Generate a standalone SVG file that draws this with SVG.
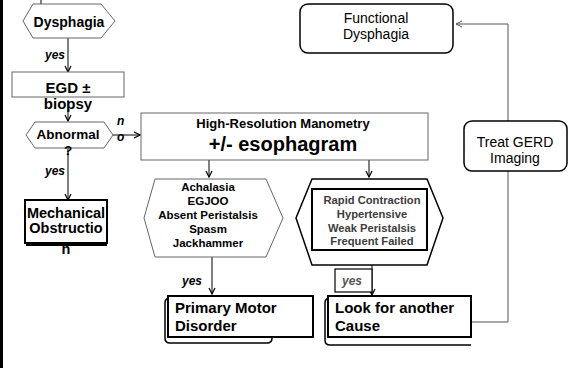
<svg xmlns="http://www.w3.org/2000/svg" width="584" height="368" viewBox="0 0 584 368">
  <defs>
    <marker id="arr" viewBox="0 0 8 8" refX="7" refY="4" markerWidth="8" markerHeight="8" markerUnits="userSpaceOnUse" orient="auto">
      <path d="M1,1 L7,4 L1,7" fill="none" stroke="#000" stroke-width="1.2"/>
    </marker>
    <marker id="arrOpen" viewBox="0 0 8 8" refX="7" refY="4" markerWidth="8" markerHeight="8" markerUnits="userSpaceOnUse" orient="auto">
      <path d="M1,1 L7,4 L1,7" fill="none" stroke="#555" stroke-width="1"/>
    </marker>
    <style>
      text { font-family: "Liberation Sans", Arial, sans-serif; fill: #000; }
      .b { font-weight: bold; }
      .lbl { font-weight: bold; font-style: italic; font-size: 12px; }
      .thin { fill: #fff; stroke: #666; stroke-width: 1; }
      .thick { fill: #fff; stroke: #000; stroke-width: 2; }
      .conn { fill: none; stroke: #000; stroke-width: 1; }
      .grey { fill: none; stroke: #555; stroke-width: 1; }
      .mid { text-anchor: middle; }
      .dim { fill: #3c3c3c; }
    </style>
  </defs>

  <rect width="584" height="368" fill="#fff"/>
  <!-- left margin bar -->
  <rect x="0" y="0" width="3" height="368" fill="#000"/>

  <!-- connectors -->
  <g id="connectors">
    <line class="conn" x1="41" y1="0" x2="41" y2="4"/>
    <line class="conn" x1="68" y1="38" x2="68" y2="72" marker-end="url(#arr)"/>
    <line class="conn" x1="68" y1="100" x2="68" y2="121" marker-end="url(#arr)"/>
    <line class="conn" x1="113" y1="135" x2="140" y2="135" marker-end="url(#arr)"/>
    <line class="conn" x1="68" y1="148" x2="68" y2="200" marker-end="url(#arr)"/>
    <line class="conn" x1="209" y1="160" x2="209" y2="177" marker-end="url(#arr)"/>
    <line class="conn" x1="369" y1="153" x2="369" y2="177" marker-end="url(#arr)"/>
    <line class="conn" x1="212" y1="257" x2="212" y2="294" marker-end="url(#arr)"/>
    <line class="conn" x1="372" y1="265" x2="372" y2="295" marker-end="url(#arr)"/>
    <polyline class="grey" points="472,322 508,322 508,171"/>
    <polyline class="grey" points="508,121 508,24 456,24" marker-end="url(#arrOpen)"/>
    <text class="lbl" x="65" y="59" text-anchor="end">yes</text>
    <text class="lbl" x="65" y="175" text-anchor="end">yes</text>
    <text class="lbl" x="117" y="125">n</text>
    <text class="lbl" x="117" y="141">o</text>
    <text class="lbl" x="202" y="285" text-anchor="end">yes</text>
  </g>

  <g id="dysphagia">
    <polygon class="thin" points="23,21 33,4 101,4 115,21 101,38 33,38"/>
    <text class="b mid" x="69" y="27" font-size="14">Dysphagia</text>
  </g>

  <g id="egd">
    <rect class="thin" x="12" y="72" width="112" height="25"/>
    <text class="b mid" x="68" y="93" font-size="15">EGD ±</text>
    <text class="b mid" x="68" y="109" font-size="15">biopsy</text>
  </g>

  <g id="abnormal">
    <polygon class="thin" points="26,135 35,122 104,122 113,135 104,148 35,148"/>
    <text class="b mid" x="68" y="139" font-size="13.5">Abnormal</text>
    <text class="b mid" x="68" y="155" font-size="13.5">?</text>
  </g>

  <g id="mechanical">
    <rect class="thick" x="25" y="200" width="82" height="43"/>
    <line x1="26" y1="245" x2="107" y2="245" stroke="#000" stroke-width="2"/>
    <text class="b mid" x="66" y="218" font-size="14.5">Mechanical</text>
    <text class="b mid" x="66" y="233" font-size="14.5">Obstructio</text>
    <text class="b mid" x="66" y="254" font-size="14.5">n</text>
  </g>

  <g id="hrm">
    <rect class="thin" x="141" y="113" width="287" height="47"/>
    <text class="b mid" x="283" y="128" font-size="13">High-Resolution Manometry</text>
    <text class="b mid" x="283" y="151" font-size="20">+/- esophagram</text>
  </g>

  <g id="functional">
    <rect x="300" y="4" width="153" height="49" rx="8" fill="#fff" stroke="#000" stroke-width="1.5"/>
    <text class="mid" x="376" y="23" font-size="14">Functional</text>
    <text class="mid" x="376" y="39" font-size="14">Dysphagia</text>
  </g>

  <g id="treat-gerd">
    <rect x="464" y="121" width="103" height="50" rx="8" fill="#fff" stroke="#000" stroke-width="1.5"/>
    <text class="mid" x="515" y="147" font-size="14">Treat GERD</text>
    <text class="mid" x="515" y="163" font-size="14">Imaging</text>
  </g>

  <g id="major-disorders">
    <polygon class="thin" points="144,218 155,179 266,179 283,218 266,257 155,257"/>
    <text class="b mid" x="208" y="191" font-size="11.5">Achalasia</text>
    <text class="b mid" x="208" y="205" font-size="11.5">EGJOO</text>
    <text class="b mid" x="208" y="219" font-size="11.5">Absent Peristalsis</text>
    <text class="b mid" x="208" y="233" font-size="11.5">Spasm</text>
    <text class="b mid" x="208" y="247" font-size="11.5">Jackhammer</text>
  </g>

  <g id="minor-disorders">
    <polygon points="296,218 312,179 427,179 443,218 427,265 312,265" fill="#fff" stroke="#000" stroke-width="1.5"/>
    <rect class="thick" x="312" y="189" width="115" height="61"/>
    <text class="b mid dim" x="372" y="204" font-size="11.2">Rapid Contraction</text>
    <text class="b mid dim" x="372" y="218" font-size="11.2">Hypertensive</text>
    <text class="b mid dim" x="372" y="232" font-size="11.2">Weak Peristalsis</text>
    <text class="b mid dim" x="372" y="245" font-size="11.2">Frequent Failed</text>
  </g>

  <g id="yes-box">
    <rect x="335" y="269" width="37" height="23" fill="#fff" stroke="#000" stroke-width="1.2"/>
    <text class="lbl" x="342" y="285" style="fill:#555">yes</text>
  </g>

  <g id="primary-motor">
    <path d="M170,298 Q165,298 165,303 L165,338 Q165,343 170,343 L267,343 Q272,343 272,338" fill="none" stroke="#000" stroke-width="1.5"/>
    <rect class="thick" x="168" y="296" width="145" height="41"/>
    <text class="b" x="175" y="313" font-size="15">Primary Motor</text>
    <text class="b" x="175" y="331" font-size="15">Disorder</text>
  </g>

  <g id="another-cause">
    <path d="M330,298 Q325,298 325,303 L325,340 Q325,345 330,345 L471,345" fill="none" stroke="#000" stroke-width="1.5"/>
    <rect class="thick" x="328" y="296" width="143" height="41"/>
    <text class="b" x="335" y="313" font-size="15">Look for another</text>
    <text class="b" x="335" y="331" font-size="15">Cause</text>
  </g>
</svg>
